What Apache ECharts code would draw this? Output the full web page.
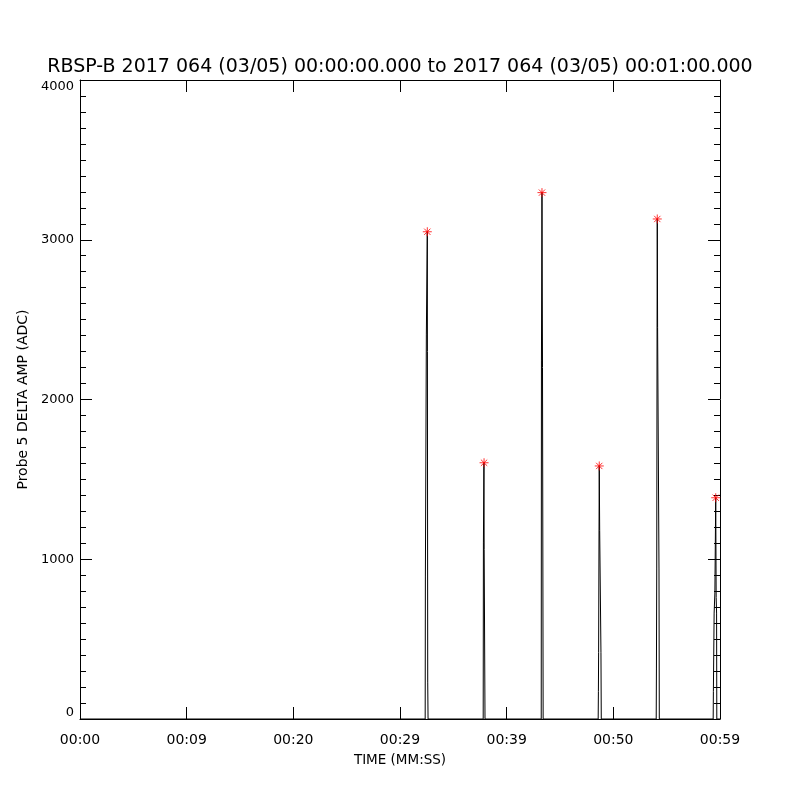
<!DOCTYPE html>
<html>
<head>
<meta charset="utf-8">
<script src="https://cdn.jsdelivr.net/npm/echarts@6/dist/echarts.min.js"></script>
<style>
html,body{margin:0;padding:0;background:#fff;}
#chart{width:800px;height:800px;}
</style>
</head>
<body>
<div id="chart"></div>
<script>
// ---- Data (time in seconds, amplitude in ADC) ----
const titleText = 'RBSP-B 2017 064 (03/05) 00:00:00.000 to 2017 064 (03/05) 00:01:00.000';
const xTickLabels = ['00:00', '00:09', '00:20', '00:29', '00:39', '00:50', '00:59'];
const yTickLabels = ['0', '1000', '2000', '3000', '4000'];

const spike1T = [32.36, 32.38, 32.47, 32.56, 32.57, 32.60, 32.63];
const spike1V = [0, 889, 2404, 3050, 2300, 231, 0];
const spike2T = [37.80, 37.82, 37.87, 37.89, 37.97];
const spike2V = [0, 1102, 1604, 1060, 0];
const spike3T = [43.24, 43.26, 43.31, 43.36, 43.42];
const spike3V = [0, 2247, 3295, 2200, 0];
const spike4T = [48.58, 48.60, 48.62, 48.66, 48.68, 48.72, 48.84, 48.87];
const spike4V = [0, 171, 415, 1208, 1584, 1180, 415, 0];
const spike5T = [54.02, 54.04, 54.07, 54.10, 54.12, 54.15, 54.28, 54.31];
const spike5V = [0, 313, 939, 2479, 3130, 2450, 939, 0];
const spike6T = [59.36, 59.38, 59.45, 59.52, 59.60, 59.64, 59.68, 59.70];
const spike6V = [0, 171, 663, 789, 1385, 760, 663, 0];

const peakT = [32.56, 37.88, 43.31, 48.68, 54.12, 59.60];
const peakV = [3050, 1604, 3295, 1584, 3130, 1385];

// ---- Build series data ----
const spikesT = [spike1T, spike2T, spike3T, spike4T, spike5T, spike6T];
const spikesV = [spike1V, spike2V, spike3V, spike4V, spike5V, spike6V];
const lineData = [[0, 0]];
spikesT.forEach((ts, i) => ts.forEach((t, j) => lineData.push([t, spikesV[i][j]])));
lineData.push([60, 0]);
const peakData = peakT.map((t, i) => [t, peakV[i]]);

const FONT = 'DejaVu Sans';
const chart = echarts.init(document.getElementById('chart'), null, {renderer: 'canvas'});

const xCommon = {
  type: 'value', min: 0, max: 60, interval: 10,
  axisLine: {show: true, onZero: false, lineStyle: {color: '#000', width: 1}},
  axisTick: {show: true, inside: true, length: 12, lineStyle: {color: '#000'}},
  splitLine: {show: false},
  minorTick: {show: false}
};
const yCommon = {
  type: 'value', min: 0, max: 4000, interval: 1000,
  axisLine: {show: true, onZero: false, lineStyle: {color: '#000', width: 1}},
  axisTick: {show: true, inside: true, length: 12, lineStyle: {color: '#000'}},
  minorTick: {show: true, splitNumber: 10, length: 6, lineStyle: {color: '#000'}},
  splitLine: {show: false}
};

chart.setOption({
  backgroundColor: '#fff',
  animation: false,
  title: {
    text: titleText, left: 'center', top: 53,
    textStyle: {fontFamily: FONT, fontSize: 19, fontWeight: 'normal', color: '#000'}
  },
  grid: {left: 80, top: 80, width: 640, height: 639},
  xAxis: [
    Object.assign({}, xCommon, {
      position: 'bottom',
      name: 'TIME (MM:SS)', nameLocation: 'middle', nameGap: 34,
      nameTextStyle: {fontFamily: FONT, fontSize: 13.5, color: '#000'},
      axisLabel: {
        show: true, margin: 14, fontFamily: FONT, fontSize: 14, color: '#000',
        formatter: v => xTickLabels[Math.round(v / 10)] || ''
      }
    }),
    Object.assign({}, xCommon, {position: 'top', axisLabel: {show: false}})
  ],
  yAxis: [
    Object.assign({}, yCommon, {
      position: 'left',
      name: 'Probe 5 DELTA AMP (ADC)', nameLocation: 'middle', nameGap: 48,
      nameTextStyle: {fontFamily: FONT, fontSize: 14, color: '#000'},
      axisLabel: {
        show: true, margin: 6, fontFamily: FONT, fontSize: 13, color: '#000',
        verticalAlignMaxLabel: 'top', verticalAlignMinLabel: 'bottom',
        formatter: v => yTickLabels[Math.round(v / 1000)] || ''
      }
    }),
    Object.assign({}, yCommon, {position: 'right', axisLabel: {show: false}})
  ],
  series: [
    {
      type: 'line', data: lineData, xAxisIndex: 0, yAxisIndex: 0,
      showSymbol: false, symbol: 'none',
      lineStyle: {color: '#000', width: 1}, z: 2
    },
    {
      type: 'scatter', data: peakData, xAxisIndex: 0, yAxisIndex: 0,
      symbol: 'path://M0,5L10,5M5,0L5,10M1.5,1.5L8.5,8.5M8.5,1.5L1.5,8.5',
      symbolSize: 9,
      itemStyle: {color: 'none', borderColor: '#ff0000', borderWidth: 1},
      z: 3
    }
  ]
});
</script>
</body>
</html>
